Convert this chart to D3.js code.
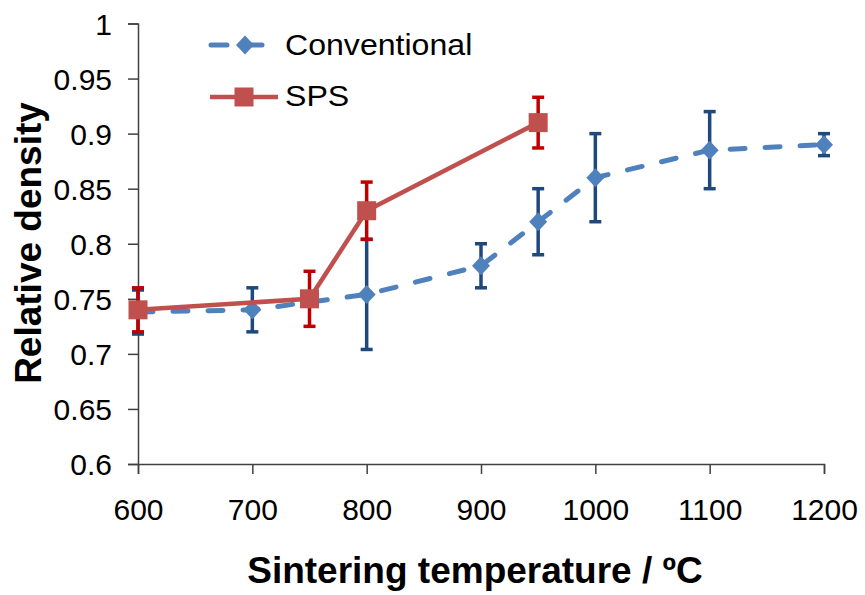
<!DOCTYPE html>
<html lang="en">
<head>
<meta charset="UTF-8">
<title>Relative density vs sintering temperature</title>
<script src="https://d3js.org/d3.v7.min.js"></script>
<style>
  body { margin: 0; background: #fff; }
  svg text { font-family: "Liberation Sans", Arial, sans-serif; fill: #000; }
</style>
</head>
<body>
<svg id="chart" width="865" height="595"></svg>
<script>
// data
var convTemp  = [600, 700, 800, 900, 950, 1000, 1100, 1200];
var convDens  = [0.738, 0.740, 0.754, 0.780, 0.820, 0.860, 0.885, 0.890];
var convErr   = [0.020, 0.020, 0.050, 0.020, 0.030, 0.040, 0.035, 0.010];

var spsTemp = [600, 750, 800, 950];
var spsDens = [0.740, 0.750, 0.830, 0.910];
var spsErr  = [0.020, 0.025, 0.026, 0.023];

var xTicks = [600, 700, 800, 900, 1000, 1100, 1200];
var yTicks = [0.6, 0.65, 0.7, 0.75, 0.8, 0.85, 0.9, 0.95, 1];

var svg = d3.select("#chart");

var x = d3.scaleLinear().domain([600, 1200]).range([138, 824]);
var y = d3.scaleLinear().domain([0.6, 1]).range([464, 23.5]);

// axes
var xAxis = d3.axisBottom(x).tickValues(xTicks).tickSize(10).tickPadding(25).tickFormat(d3.format("d"));
var yAxis = d3.axisLeft(y).tickValues(yTicks).tickSize(10).tickPadding(16).tickFormat(function(d) { return String(+d.toFixed(2)); });

var gx = svg.append("g").attr("transform", "translate(0," + y(0.6) + ")").call(xAxis);
var gy = svg.append("g").attr("transform", "translate(" + x(600) + ",0)").call(yAxis);

[gx, gy].forEach(function(g) {
  g.select(".domain").attr("stroke", "#404040").attr("stroke-width", 1.5);
  g.selectAll(".tick line").attr("stroke", "#404040").attr("stroke-width", 1.5);
  g.selectAll(".tick text").style("font-size", "30px").attr("fill", "#000");
});
gy.selectAll(".tick text").attr("dy", "0.35em");
gx.selectAll(".tick text").attr("dy", "0.71em");

// axis titles
svg.append("text")
  .attr("x", 475).attr("y", 583)
  .attr("text-anchor", "middle")
  .style("font-size", "37px").style("font-weight", "bold")
  .text("Sintering temperature / ºC");

svg.append("text")
  .attr("transform", "translate(41,243) rotate(-90)")
  .attr("text-anchor", "middle")
  .style("font-size", "37px").style("font-weight", "bold")
  .text("Relative density");

var convData = convTemp.map(function(t, i) { return { t: t, v: convDens[i], e: convErr[i] }; });
var spsData  = spsTemp.map(function(t, i) { return { t: t, v: spsDens[i], e: spsErr[i] }; });

var line = d3.line().x(function(d) { return x(d.t); }).y(function(d) { return y(d.v); });

function errorBars(data, color) {
  var g = svg.append("g").attr("stroke", color).attr("stroke-width", 3.5);
  var cap = 6;
  data.forEach(function(d) {
    var cx = x(d.t), top = y(d.v + d.e), bot = y(d.v - d.e);
    g.append("line").attr("x1", cx).attr("x2", cx).attr("y1", top).attr("y2", bot);
    g.append("line").attr("x1", cx - cap).attr("x2", cx + cap).attr("y1", top).attr("y2", top);
    g.append("line").attr("x1", cx - cap).attr("x2", cx + cap).attr("y1", bot).attr("y2", bot);
  });
}

var diamond = "M0,-9.5L9,0L0,9.5L-9,0Z";

// conventional series
errorBars(convData, "#1F497D");
svg.append("path").datum(convData)
  .attr("d", line)
  .attr("fill", "none").attr("stroke", "#4F81BD").attr("stroke-width", 5)
  .attr("stroke-dasharray", "15,20").attr("stroke-linecap", "round");

svg.append("g").selectAll("path").data(convData).join("path")
  .attr("d", diamond)
  .attr("transform", function(d) { return "translate(" + x(d.t) + "," + y(d.v) + ")"; })
  .attr("fill", "#4F81BD");

// SPS series
errorBars(spsData, "#C00000");
svg.append("path").datum(spsData)
  .attr("d", line)
  .attr("fill", "none").attr("stroke", "#C0504D").attr("stroke-width", 4.5);

svg.append("g").selectAll("rect").data(spsData).join("rect")
  .attr("x", function(d) { return x(d.t) - 9.5; })
  .attr("y", function(d) { return y(d.v) - 9.5; })
  .attr("width", 19).attr("height", 19)
  .attr("fill", "#C0504D");

// legend
var lg = svg.append("g");
lg.append("line").attr("x1", 211).attr("x2", 227).attr("y1", 45).attr("y2", 45)
  .attr("stroke", "#4F81BD").attr("stroke-width", 5).attr("stroke-linecap", "round");
lg.append("line").attr("x1", 240).attr("x2", 262).attr("y1", 45).attr("y2", 45)
  .attr("stroke", "#4F81BD").attr("stroke-width", 5).attr("stroke-linecap", "round");
lg.append("path").attr("d", diamond).attr("transform", "translate(245,45)").attr("fill", "#4F81BD");
lg.append("text").attr("transform", "translate(285,55) scale(1.07,1)").style("font-size", "30px").text("Conventional");

lg.append("line").attr("x1", 210).attr("x2", 278).attr("y1", 97).attr("y2", 97)
  .attr("stroke", "#C0504D").attr("stroke-width", 4.5);
lg.append("rect").attr("x", 234.5).attr("y", 87.5).attr("width", 19).attr("height", 19).attr("fill", "#C0504D");
lg.append("text").attr("transform", "translate(285,106) scale(1.07,1)").style("font-size", "30px").text("SPS");
</script>
</body>
</html>
